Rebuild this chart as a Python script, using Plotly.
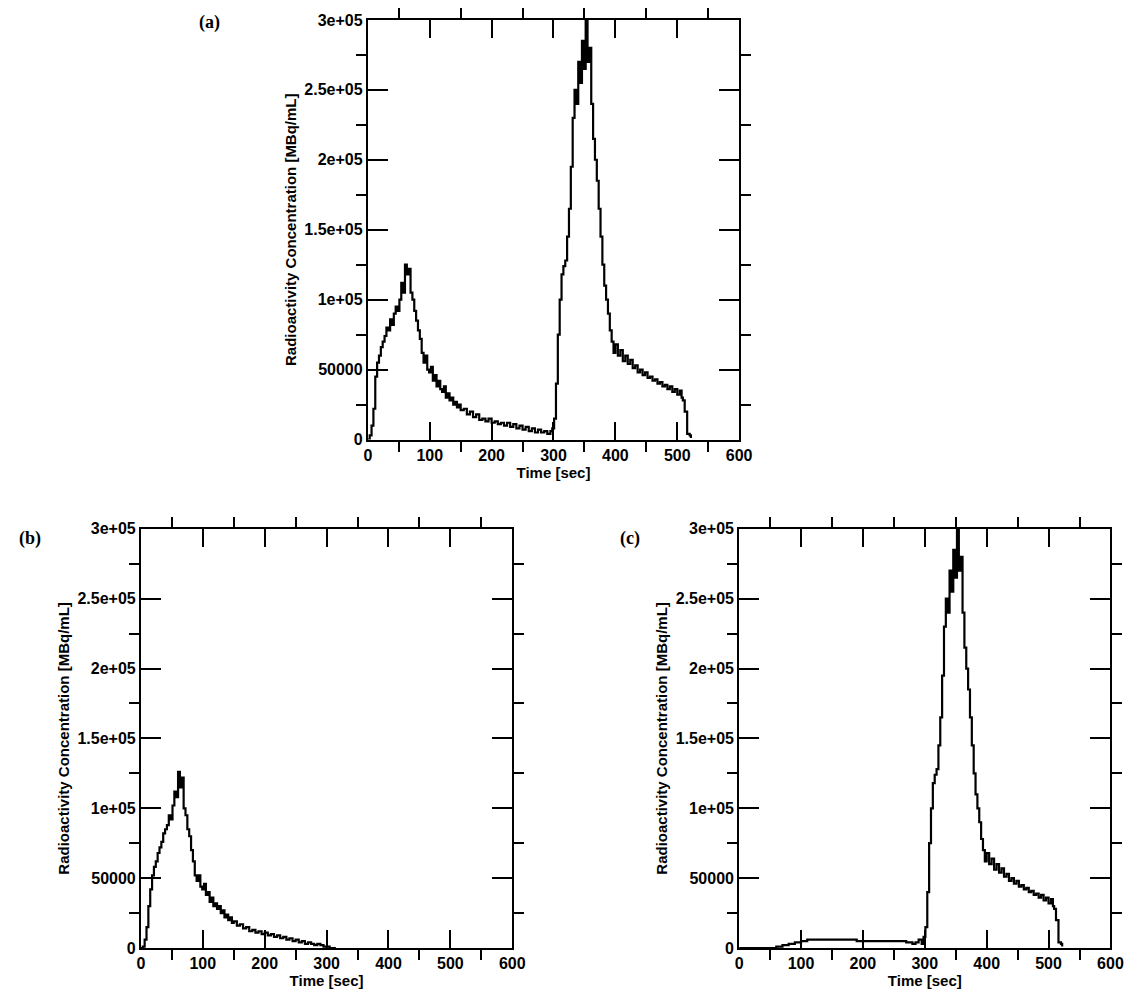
import plotly.graph_objects as go

# panel (a): full curve, values in thousands
time_a = [0, 3, 6, 9, 12, 15, 18, 21, 24, 27, 30, 33, 36, 39, 42, 45, 48, 51, 54, 57, 60, 63, 66, 69, 72, 75,
          78, 81, 84, 87, 90, 93, 96, 99, 102, 105, 108, 111, 114, 117, 120, 123, 126, 129, 132, 135, 138, 141,
          144, 147, 150, 155, 160, 165, 170, 175, 180, 185, 190, 195, 200, 205, 210, 215, 220, 225, 230, 235,
          240, 245, 250, 255, 260, 265, 270, 275, 280, 285, 290, 295, 298, 301, 304, 307, 310, 313, 316, 319,
          322, 325, 328, 331, 334, 337, 340, 343, 346, 349, 352, 355, 358, 361, 364, 367, 370, 373, 376, 379,
          382, 385, 388, 391, 394, 397, 400, 404, 408, 412, 416, 420, 424, 428, 432, 436, 440, 444, 448, 452,
          456, 460, 464, 468, 472, 476, 480, 484, 488, 492, 496, 500, 504, 507, 509, 512, 516, 520, 522]
conc_a = [0, 3, 10, 22, 45, 55, 60, 66, 70, 74, 80, 78, 86, 82, 90, 95, 92, 100, 112, 105, 125, 118, 122,
          105, 100, 92, 85, 78, 72, 62, 55, 60, 50, 48, 52, 42, 46, 38, 42, 36, 34, 38, 30, 33, 28, 30, 25,
          27, 23, 25, 21, 22, 18, 20, 16, 18, 14, 15, 13, 15, 12, 13, 11, 12, 10, 12, 9, 11, 8, 10, 7, 9, 6, 8,
          5, 7, 5, 6, 4, 6, 8, 15, 40, 75, 100, 118, 124, 128, 145, 165, 195, 230, 250, 240, 270, 255, 285,
          265, 300, 270, 280, 240, 215, 200, 185, 165, 145, 125, 110, 100, 90, 78, 70, 62, 68, 60, 64, 56, 60,
          54, 57, 51, 53, 48, 50, 46, 48, 44, 45, 42, 43, 40, 41, 38, 39, 36, 38, 34, 36, 32, 35, 30, 28, 20,
          4, 3, 1, 0]

# panel (b): first pass only
time_b = [0, 3, 6, 9, 12, 15, 18, 21, 24, 27, 30, 33, 36, 39, 42, 45, 48, 51, 54, 57, 60, 63, 66, 69, 72,
          75, 78, 81, 84, 87, 90, 93, 96, 99, 102, 105, 108, 111, 114, 117, 120, 123, 126, 129, 132, 135, 138,
          141, 144, 147, 150, 155, 160, 165, 170, 175, 180, 185, 190, 195, 200, 205, 210, 215, 220, 225, 230,
          235, 240, 245, 250, 255, 260, 265, 270, 275, 280, 285, 290, 295, 300, 305, 310, 315]
conc_b = [0, 1, 6, 15, 30, 42, 52, 58, 62, 68, 72, 76, 82, 85, 88, 95, 92, 102, 112, 108, 126, 115, 122,
          100, 95, 85, 80, 70, 62, 52, 48, 52, 44, 42, 46, 38, 40, 33, 36, 30, 32, 28, 30, 25, 27, 22, 24,
          20, 22, 18, 19, 16, 17, 14, 15, 12, 13, 11, 12, 10, 11, 9, 10, 8, 9, 7, 8, 6, 7, 5, 6, 4, 5, 3,
          4, 3, 2, 3, 2, 1, 1, 0, 0, 0]

# panel (c): second pass with low plateau
time_c = [0, 50, 60, 70, 80, 90, 100, 110, 180, 190, 260, 270, 280, 285, 290, 295, 298, 301, 304, 307, 310,
          313, 316, 319, 322, 325, 328, 331, 334, 337, 340, 343, 346, 349, 352, 355, 358, 361, 364, 367, 370,
          373, 376, 379, 382, 385, 388, 391, 394, 397, 400, 404, 408, 412, 416, 420, 424, 428, 432, 436, 440,
          444, 448, 452, 456, 460, 464, 468, 472, 476, 480, 484, 488, 492, 496, 500, 504, 507, 509, 512, 516,
          520, 522]
conc_c = [0, 0, 1, 2, 3, 4, 5, 6, 6, 5, 5, 4, 3, 4, 6, 3, 8, 15, 40, 75, 100, 118, 124, 128, 145, 165,
          195, 230, 250, 240, 270, 255, 285, 265, 300, 270, 280, 240, 215, 200, 185, 165, 145, 125, 110, 100,
          90, 78, 70, 62, 68, 60, 64, 56, 60, 54, 57, 51, 53, 48, 50, 46, 48, 44, 45, 42, 43, 40, 41, 38, 39,
          36, 38, 34, 36, 32, 35, 30, 28, 20, 4, 3, 1]

y_tick_vals = [0, 50000, 100000, 150000, 200000, 250000, 300000]
y_tick_text = ["0", "50000", "1e+05", "1.5e+05", "2e+05", "2.5e+05", "3e+05"]
x_tick_vals = [0, 100, 200, 300, 400, 500, 600]

panels = [
    (time_a, conc_a, [0.314, 0.638], [0.565, 0.988], "(a)", 0.165, 0.998),
    (time_b, conc_b, [0.116, 0.44], [0.0524, 0.475], "(b)", 0.008, 0.478),
    (time_c, conc_c, [0.638, 0.962], [0.0524, 0.475], "(c)", 0.532, 0.478),
]

fig = go.Figure()
tick_font = dict(family="Liberation Sans", size=16, color="black")
title_font = dict(family="Liberation Sans", size=15, color="black")
for i, (t, c, xd, yd, label, lx, ly) in enumerate(panels, start=1):
    suffix = "" if i == 1 else str(i)
    fig.add_trace(go.Scatter(
        x=t, y=[v * 1000 for v in c], mode="lines", line=dict(color="black", width=2.2, shape="hv"),
        xaxis="x" + suffix, yaxis="y" + suffix, showlegend=False))
    common = dict(showline=True, linecolor="black", linewidth=2, mirror="allticks", ticks="inside",
                  tickwidth=2, tickcolor="black", showgrid=False, zeroline=False, tickfont=tick_font,
                  automargin=False)
    fig.layout["xaxis" + suffix] = dict(
        common, domain=xd, anchor="y" + suffix, range=[0, 600], tickvals=x_tick_vals,
        ticktext=["<b>%d</b>" % v for v in x_tick_vals], ticklen=18,
        minor=dict(tickvals=[50, 150, 250, 350, 450, 550], ticklen=10, tickwidth=2, tickcolor="black"),
        title=dict(text="<b>Time [sec]</b>", font=title_font, standoff=0))
    fig.layout["yaxis" + suffix] = dict(
        common, domain=yd, anchor="x" + suffix, range=[0, 300000], tickvals=y_tick_vals,
        ticktext=["<b>%s</b>" % s for s in y_tick_text], ticklen=20,
        minor=dict(tickvals=[25000, 75000, 125000, 175000, 225000, 275000], ticklen=10, tickwidth=2,
                   tickcolor="black"),
        title=dict(text="<b>Radioactivity Concentration [MBq/mL]</b>", font=title_font, standoff=4))
    fig.add_annotation(text="<b>%s</b>" % label, x=lx, y=ly, xref="paper", yref="paper", showarrow=False,
                       xanchor="left", yanchor="top",
                       font=dict(family="Liberation Serif", size=18, color="black"))

fig.update_layout(width=1146, height=992, margin=dict(l=0, r=0, t=0, b=0, autoexpand=False),
                  plot_bgcolor="white", paper_bgcolor="white")
fig.write_html("out.html")
